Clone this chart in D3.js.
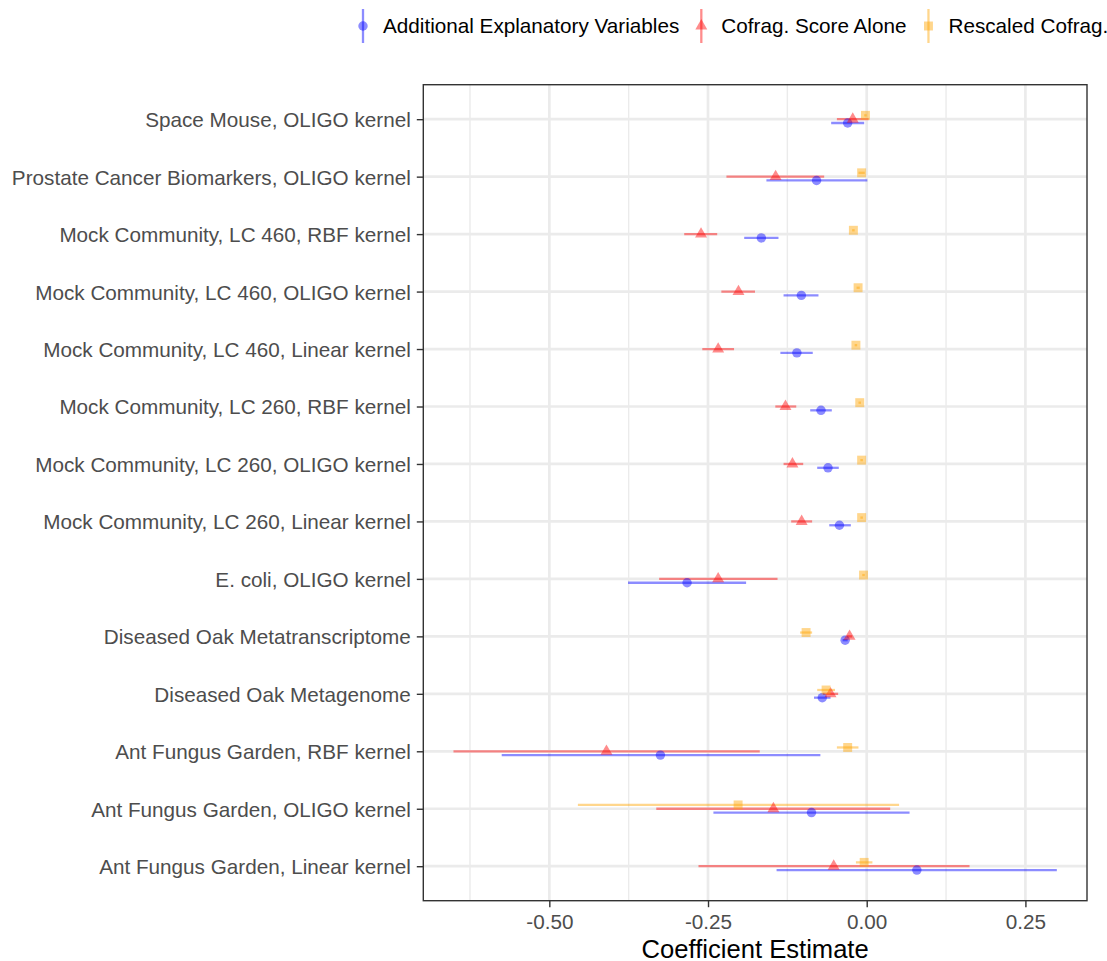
<!DOCTYPE html>
<html>
<head>
<meta charset="utf-8">
<script src="https://cdn.jsdelivr.net/npm/d3@7"></script>
<style>
  html, body { margin: 0; padding: 0; background: #fff; }
  svg { display: block; font-family: "Liberation Sans", Arial, Helvetica, sans-serif; }
</style>
</head>
<body>
<div id="chart"></div>
<script>
const categories = [
  "Space Mouse, OLIGO kernel",
  "Prostate Cancer Biomarkers, OLIGO kernel",
  "Mock Community, LC 460, RBF kernel",
  "Mock Community, LC 460, OLIGO kernel",
  "Mock Community, LC 460, Linear kernel",
  "Mock Community, LC 260, RBF kernel",
  "Mock Community, LC 260, OLIGO kernel",
  "Mock Community, LC 260, Linear kernel",
  "E. coli, OLIGO kernel",
  "Diseased Oak Metatranscriptome",
  "Diseased Oak Metagenome",
  "Ant Fungus Garden, RBF kernel",
  "Ant Fungus Garden, OLIGO kernel",
  "Ant Fungus Garden, Linear kernel"
];

const seriesNames = ["Additional Explanatory Variables", "Cofrag. Score Alone", "Rescaled Cofrag. Score"];

// Additional Explanatory Variables
const estAdditional = [-0.030, -0.079, -0.166, -0.103, -0.110, -0.072, -0.061, -0.043, -0.283, -0.034, -0.070, -0.325, -0.087, 0.079];
const loAdditional  = [-0.056, -0.158, -0.193, -0.131, -0.136, -0.089, -0.078, -0.059, -0.376, -0.038, -0.083, -0.575, -0.2415, -0.142];
const hiAdditional  = [-0.004, 0.001, -0.139, -0.076, -0.085, -0.055, -0.044, -0.025, -0.190, -0.030, -0.057, -0.073, 0.0675, 0.2995];

// Cofrag. Score Alone
const estCofrag = [-0.022, -0.1435, -0.261, -0.202, -0.234, -0.128, -0.117, -0.1025, -0.234, -0.027, -0.057, -0.410, -0.147, -0.052];
const loCofrag  = [-0.047, -0.221, -0.2875, -0.229, -0.259, -0.144, -0.131, -0.119, -0.327, -0.031, -0.069, -0.651, -0.3315, -0.265];
const hiCofrag  = [0.003, -0.067, -0.2355, -0.176, -0.209, -0.111, -0.100, -0.086, -0.1405, -0.023, -0.045, -0.1685, 0.037, 0.162];

// Rescaled Cofrag. Score
const estRescaled = [-0.002, -0.008, -0.021, -0.0136, -0.017, -0.011, -0.008, -0.008, -0.005, -0.0955, -0.064, -0.030, -0.2026, -0.004];
const loRescaled  = [-0.004, -0.013, -0.023, -0.016, -0.019, -0.013, -0.010, -0.010, -0.007, -0.105, -0.078, -0.047, -0.455, -0.017];
const hiRescaled  = [0.000, -0.003, -0.019, -0.011, -0.015, -0.009, -0.006, -0.006, -0.003, -0.086, -0.050, -0.013, 0.051, 0.009];

const xTicks = [-0.50, -0.25, 0.00, 0.25];
const xTickLabels = ["-0.50", "-0.25", "0.00", "0.25"];

function renderChart() {
  const W = 1107, H = 961;
  const margin = { top: 84.7, right: 20, bottom: 60.3, left: 423.3 };
  const width = W - margin.left - margin.right,
    height = H - margin.top - margin.bottom;

  const colors = ["#0000FF", "#FF0000", "#FFA500"];
  const shapes = [d3.symbolCircle, d3.symbolTriangle, d3.symbolSquare];
  const shapeSizes = [70, 62, 80];
  const dodge = [1, 0, -1]; // blue below, red on line, orange above

  const series = [
    { est: estAdditional, lo: loAdditional, hi: hiAdditional },
    { est: estCofrag, lo: loCofrag, hi: hiCofrag },
    { est: estRescaled, lo: loRescaled, hi: hiRescaled }
  ];
  const rows = [];
  series.forEach((s, k) => {
    categories.forEach((c, i) => {
      rows.push({ cat: c, k, est: s.est[i], lo: s.lo[i], hi: s.hi[i] });
    });
  });

  const svg = d3.select("#chart").append("svg")
    .attr("width", W).attr("height", H);
  const g = svg.append("g").attr("transform", `translate(${margin.left},${margin.top})`);

  // Scales (ggplot-style 5% expansion)
  const ext = [d3.min(rows, d => d.lo), d3.max(rows, d => d.hi)];
  const pad = (ext[1] - ext[0]) * 0.05;
  const x = d3.scaleLinear().domain([ext[0] - pad, ext[1] + pad]).range([0, width]);
  const y = d3.scalePoint().domain(categories).range([0, height]).padding(0.6);
  const off = y.step() * 0.2 / 3;

  // Grid
  const minor = xTicks.slice(0, -1).map((t, i) => (t + xTicks[i + 1]) / 2);
  minor.unshift(xTicks[0] - 0.125);
  minor.push(xTicks[xTicks.length - 1] + 0.125);
  g.selectAll(".minor").data(minor.filter(t => x(t) > 0 && x(t) < width)).join("line")
    .attr("x1", d => x(d)).attr("x2", d => x(d)).attr("y1", 0).attr("y2", height)
    .attr("stroke", "#EBEBEB").attr("stroke-width", 1.4);
  g.selectAll(".majorx").data(xTicks).join("line")
    .attr("x1", d => x(d)).attr("x2", d => x(d)).attr("y1", 0).attr("y2", height)
    .attr("stroke", "#EBEBEB").attr("stroke-width", 2.7);
  g.selectAll(".majory").data(categories).join("line")
    .attr("x1", 0).attr("x2", width).attr("y1", d => y(d)).attr("y2", d => y(d))
    .attr("stroke", "#EBEBEB").attr("stroke-width", 2.7);

  // Error bars
  g.selectAll(".range").data(rows).join("line")
    .attr("x1", d => x(d.lo)).attr("x2", d => x(d.hi))
    .attr("y1", d => y(d.cat) + dodge[d.k] * off).attr("y2", d => y(d.cat) + dodge[d.k] * off)
    .attr("stroke", d => colors[d.k]).attr("stroke-opacity", 0.45).attr("stroke-width", 2.3);

  // Points
  g.selectAll(".pt").data(rows).join("path")
    .attr("transform", d => `translate(${x(d.est)},${y(d.cat) + dodge[d.k] * off})`)
    .attr("d", d => d3.symbol().type(shapes[d.k]).size(shapeSizes[d.k])())
    .attr("fill", d => colors[d.k]).attr("fill-opacity", 0.45);

  // Panel border
  g.append("rect").attr("width", width).attr("height", height)
    .attr("fill", "none").attr("stroke", "#333333").attr("stroke-width", 1.4);

  // Axes
  const xAxis = g.append("g").attr("transform", `translate(0,${height})`)
    .call(d3.axisBottom(x).tickValues(xTicks).tickFormat((d, i) => xTickLabels[i]).tickSize(6.5).tickPadding(6));
  const yAxis = g.append("g")
    .call(d3.axisLeft(y).tickSize(6.5).tickPadding(6));
  [xAxis, yAxis].forEach(a => {
    a.select(".domain").remove();
    a.selectAll(".tick line").attr("stroke", "#333333").attr("stroke-width", 1.4);
    a.selectAll(".tick text").attr("fill", "#4D4D4D").style("font-size", "20.7px");
  });
  xAxis.selectAll(".tick text").attr("dy", "0.78em");
  yAxis.selectAll(".tick text").attr("dy", "0.36em");

  svg.append("text")
    .attr("x", margin.left + width / 2).attr("y", 957.5)
    .attr("text-anchor", "middle").style("font-size", "25.6px").attr("fill", "#000")
    .text("Coefficient Estimate");

  // Legend
  const legend = svg.append("g").attr("transform", "translate(0,26)");
  let kx = 363;
  seriesNames.forEach((name, k) => {
    const item = legend.append("g").attr("transform", `translate(${kx},0)`);
    item.append("line").attr("x1", 0).attr("x2", 0).attr("y1", -17).attr("y2", 17)
      .attr("stroke", colors[k]).attr("stroke-opacity", 0.45).attr("stroke-width", 2.3);
    item.append("path").attr("d", d3.symbol().type(shapes[k]).size(shapeSizes[k])())
      .attr("fill", colors[k]).attr("fill-opacity", 0.45);
    const t = item.append("text").attr("x", 20).attr("dy", "0.36em")
      .style("font-size", "20.7px").attr("fill", "#000").text(name);
    kx += 20 + t.node().getComputedTextLength() + 22;
  });
}

renderChart();
</script>
</body>
</html>
